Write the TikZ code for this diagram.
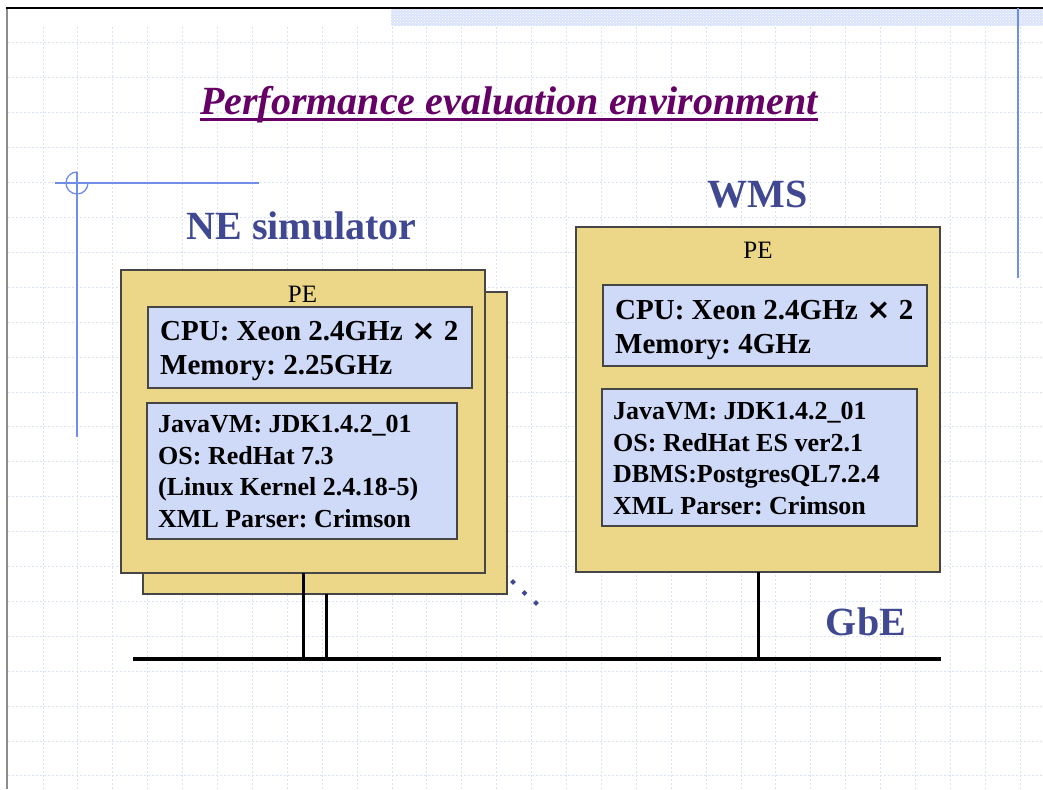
\documentclass[tikz,border=0pt]{standalone}
\usepackage{fontspec}
\setmainfont{Liberation Serif}
\newfontfamily\symfont{DejaVu Sans}
\usetikzlibrary{patterns,shapes.geometric}
\frenchspacing

\definecolor{gridblue}{RGB}{218,226,248}
\definecolor{accentblue}{RGB}{112,142,232}
\definecolor{titlepurple}{RGB}{102,0,102}
\definecolor{headblue}{RGB}{64,72,145}
\definecolor{pefill}{RGB}{235,215,135}
\definecolor{specfill}{RGB}{206,218,248}
\definecolor{hatchblue}{RGB}{190,205,248}
\definecolor{edgegray}{RGB}{70,70,70}

\tikzset{
  gridline/.style={draw=gridblue, line width=1pt, dash pattern=on 2pt off 2pt},
  accent/.style={draw=accentblue, line width=1.3pt},
  pebox/.style={draw=edgegray, fill=pefill, line width=1.2pt, anchor=north west,
                inner sep=0pt, outer sep=0pt},
  specbox/.style={draw=edgegray, fill=specfill, line width=1.2pt, anchor=north west,
                  inner sep=0pt, outer sep=0pt},
  heading/.style={text=headblue, anchor=base, inner sep=0pt,
                  font=\fontsize{40}{48}\selectfont\bfseries},
  pelabel/.style={anchor=base, inner sep=0pt, font=\fontsize{25}{30}\selectfont},
  % multi-line texts are placed by the baseline of their last line
  cputext/.style={anchor=base west, inner sep=0pt, align=left,
                  font=\fontsize{29}{34}\selectfont\bfseries},
  swtext/.style={anchor=base west, inner sep=0pt, align=left,
                 font=\fontsize{26}{31.5}\selectfont\bfseries},
  bus/.style={draw=black, line width=4pt},
  drop/.style={draw=black, line width=3pt},
  dotmark/.style={diamond, fill=headblue, inner sep=0pt, minimum size=6pt}
}
\newcommand{\timestwo}{\hspace{0.3em}{\symfont\bfseries ×}\hspace{0.28em}2}

\begin{document}
\begin{tikzpicture}[x=1pt,y=-1pt]
\useasboundingbox (0,0) rectangle (1043,789);
\fill[white] (0,0) rectangle (1043,789);

% background grid
\foreach \i in {0,...,21}
  \draw[gridline] (8,{43+34.9*\i}) -- (1043,{43+34.9*\i});
\foreach \i in {0,...,28}
  \draw[gridline] ({43+34.9*\i},27) -- ({43+34.9*\i},789);

% hatched band along the top edge
\fill[hatchblue!55] (391,9) rectangle (1043,26);
\fill[pattern=crosshatch dots, pattern color=white] (391,9) rectangle (1043,26);

% page frame
\draw[black!45, line width=1.2pt] (7,8) -- (7,789);
\draw[black, line width=1.6pt] (6,8) -- (1043,8);

% decorative rules
\draw[accent] (1018,8) -- (1018,278);
\draw[accent] (55,183) -- (259,183);
\draw[accent] (77,172) -- (77,437);
\draw[accent] (77,172) arc[start angle=90, end angle=360, radius=11pt];

% title
\node[anchor=base, inner sep=0pt, text=titlepurple,
      font=\fontsize{40}{48}\selectfont\bfseries\itshape] (title) at (509,114)
      {Performance evaluation environment};
\draw[titlepurple, line width=3pt]
  ([yshift=-5.5pt]title.base west) -- ([yshift=-5.5pt]title.base east);

% headings
\node[heading] (nehead) at (301.5,239) {NE simulator};
\node[heading] (wmshead) at (757.5,207) {WMS};
\node[heading] (gbe) at (866,635) {GbE};

% NE simulator machines
\node[pebox, minimum width=364pt, minimum height=302pt] (neback) at (143,292) {};
\node[pebox, minimum width=364pt, minimum height=303pt] (nefront) at (121,270) {};
\node[pelabel] (nepe) at (302.5,302) {PE};
\node[specbox, minimum width=324pt, minimum height=81pt] (necpu) at (148,307) {};
\node[cputext] (necputxt) at (160,374)
  {CPU: Xeon 2.4GHz\timestwo\\Memory: 2.25GHz};
\node[specbox, minimum width=310pt, minimum height=136pt] (nesw) at (147,403) {};
\node[swtext] (neswtxt) at (158,527)
  {JavaVM: JDK1.4.2\_01\\OS: RedHat 7.3\\(Linux Kernel 2.4.18-5)\\XML Parser: Crimson};

% WMS machine
\node[pebox, minimum width=364pt, minimum height=345pt] (wms) at (576,227) {};
\node[pelabel] (wmspe) at (758,258) {PE};
\node[specbox, minimum width=324pt, minimum height=81pt] (wmscpu) at (603,285) {};
\node[cputext] (wmscputxt) at (615,353)
  {CPU: Xeon 2.4GHz\timestwo\\Memory: 4GHz};
\node[specbox, minimum width=315pt, minimum height=137pt] (wmssw) at (602,389) {};
\node[swtext] (wmsswtxt) at (613,514)
  {JavaVM: JDK1.4.2\_01\\OS: RedHat ES ver2.1\\DBMS:PostgresQL7.2.4\\XML Parser: Crimson};

% more machines follow
\node[dotmark] (dot1) at (513,582) {};
\node[dotmark] (dot2) at (524.5,593) {};
\node[dotmark] (dot3) at (536,603) {};

% Gigabit Ethernet bus and its taps
\coordinate (busL) at (133,659);
\coordinate (busR) at (941,659);
\coordinate (tapA) at (303,659);
\coordinate (tapB) at (326,659);
\coordinate (tapC) at (758,659);
\draw[drop] (nefront.south -| tapA) -- (tapA);
\draw[drop] (neback.south -| tapB) -- (tapB);
\draw[drop] (wms.south -| tapC) -- (tapC);
\draw[bus] (busL) -- (busR);
\end{tikzpicture}
\end{document}
